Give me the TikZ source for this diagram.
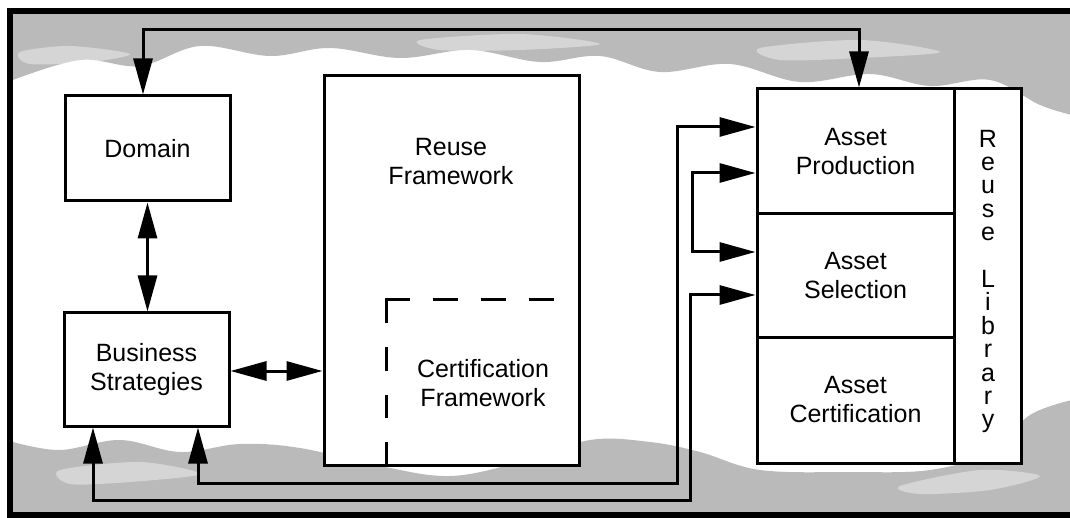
\documentclass[tikz,border=0pt]{standalone}
\usepackage{fontspec}
\setmainfont{Liberation Sans}
\usetikzlibrary{arrows.meta,calc}
\tikzset{
  box/.style={draw, line width=3pt, inner sep=0pt, fill=white, font=\fontsize{25}{29}\selectfont, align=center},
  txt/.style={inner sep=0pt, font=\fontsize{25}{29}\selectfont, align=center},
  conn/.style={line width=3pt, arrows={Triangle[length=36pt,width=19pt]-Triangle[length=36pt,width=19pt]}},
  dsh/.style={line width=3pt},
  frameline/.style={line width=6pt, line join=miter},
  bg/.style={fill=black!27},
  wisp/.style={fill=white, opacity=0.4}
}
\begin{document}
\begin{tikzpicture}[x=1pt,y=-1pt]
\useasboundingbox (0,0) rectangle (1070,518);
\fill[white] (0,0) rectangle (1070,518);
% textured background bands
\fill[bg] (13,14) -- (1072,14) -- (1072,115) -- plot[smooth, tension=0.6] coordinates {(1072,115) (1040,105) (990,80) (930,86) (870,74) (800,82) (730,64) (660,72) (600,56) (540,62) (470,50) (400,58) (330,48) (270,56) (200,46) (140,66) (80,60) (13,80)} -- cycle;
\fill[bg] (13,512) -- (13,442) -- plot[smooth, tension=0.6] coordinates {(13,442) (60,450) (120,440) (180,452) (240,444) (300,448) (380,466) (450,476) (520,462) (590,440) (650,442) (700,452) (760,470) (850,472) (930,470) (990,452) (1030,415) (1072,400)} -- (1072,512) -- cycle;
\fill[wisp] plot[smooth cycle] coordinates {(20,52) (70,46) (130,54) (90,62) (30,64)};
\fill[wisp] plot[smooth cycle] coordinates {(420,40) (520,34) (600,44) (520,50) (440,50)};
\fill[wisp] plot[smooth cycle] coordinates {(760,48) (860,40) (940,52) (860,58) (780,60)};
\fill[wisp] plot[smooth cycle] coordinates {(60,470) (140,462) (200,474) (130,482) (70,484)};
\fill[wisp] plot[smooth cycle] coordinates {(900,486) (980,470) (1040,476) (990,490) (920,494)};
% outer frame
\draw[frameline] (1080,11) -- (10,11) -- (10,515) -- (1080,515);
% boxes
\node[box, minimum width=165pt, minimum height=105pt] (dom) at (147.5,148.5) {Domain};
\node[box, minimum width=165pt, minimum height=113pt] (bus) at (146.5,369.5) {Business\\Strategies};
\node[box, minimum width=255pt, minimum height=389pt] (rf) at (451.5,270.5) {};
\node[txt] (rft) at (451,162) {Reuse\\Framework};
\coordinate (c0) at (386,465);
\coordinate (c1) at (386,300);
\coordinate (c1b) at (384.5,300);
\coordinate (c2) at (554,300);
\draw[dsh, dash pattern=on 23.25pt off 24pt] (c0) -- (c1);
\draw[dsh, dash pattern=on 25.125pt off 23pt] (c2) -- (c1b);
\node[txt] (cft) at (483,383) {Certification\\Framework};
\node[box, minimum width=197pt, minimum height=125pt] (ap) at (855.5,151.5) {Asset\\Production};
\node[box, minimum width=197pt, minimum height=123pt] (as) at (855.5,275.5) {Asset\\Selection};
\node[box, minimum width=197pt, minimum height=126pt] (ac) at (855.5,400) {Asset\\Certification};
\node[box, minimum width=67pt, minimum height=374pt] (lib) at (987.5,276) {};
\node[txt, font=\fontsize{25}{23.4}\selectfont] (libt) at (988,281.5) {R\\e\\u\\s\\e\\[23.4pt]L\\i\\b\\r\\a\\r\\y};
% connectors
\coordinate (topy) at (0,30);
\draw[conn] ([xshift=-4.5pt]dom.north) -- ([xshift=-4.5pt]dom.north |- topy) -| ([xshift=3.5pt]ap.north);
\draw[conn] (dom.south) -- (dom.south |- bus.north);
\draw[conn] ($(bus.east)+(0,1.5)$) -- ($(bus.east -| rf.west)+(0,1.5)$);
\coordinate (j1) at (677,483);
\coordinate (j2) at (690,500);
\draw[conn] ([xshift=51.5pt]bus.south) |- (j1) |- ($(ap.west)+(0,-24.5)$);
\draw[conn] ([xshift=-53.5pt]bus.south) |- (j2) |- ($(as.west)+(0,19.5)$);
\coordinate (l1) at (692,173);
\coordinate (l2) at (692,252);
\draw[conn] ($(ap.west)+(0,21.5)$) -- (l1) -- (l2) -- ($(as.west)+(0,-23.5)$);
\end{tikzpicture}
\end{document}
